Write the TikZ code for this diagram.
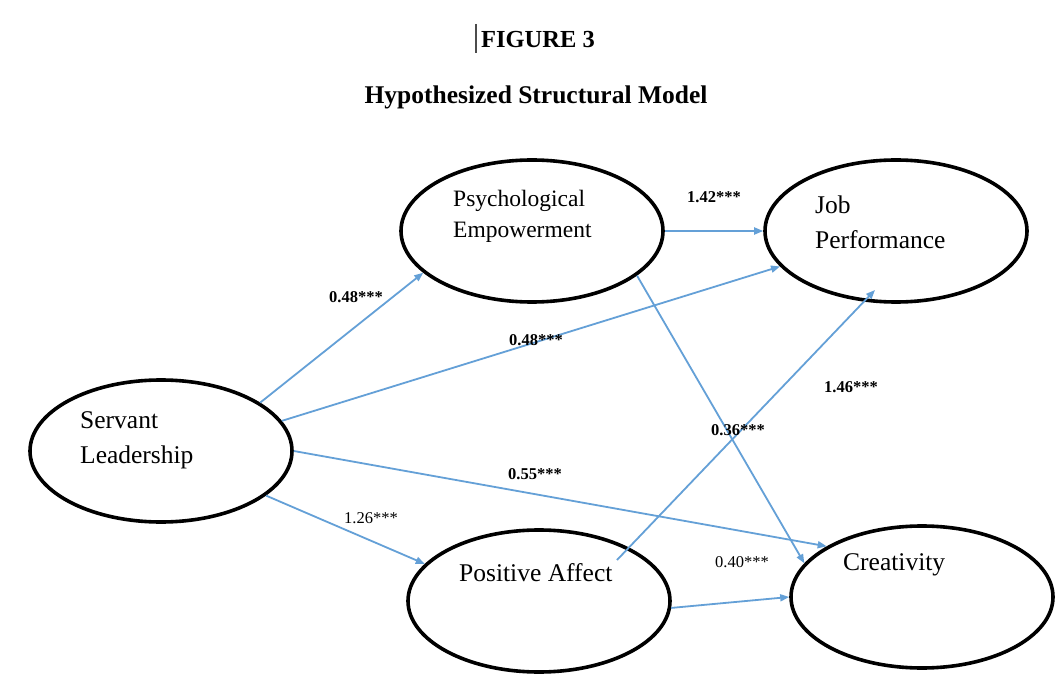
\documentclass[tikz,border=0pt]{standalone}
\usepackage{fontspec}
\setmainfont{Liberation Serif}
\usetikzlibrary{arrows.meta,shapes.geometric}
\definecolor{arr}{RGB}{100,160,215}
\begin{document}
\begin{tikzpicture}[x=1pt,y=-1pt,
  latent/.style={draw=black, line width=3.6pt, ellipse, minimum width=262pt, minimum height=142pt, inner sep=0pt},
  lbl/.style={inner sep=0pt, font=\fontsize{25.5}{35}\selectfont, align=left, anchor=west},
  coef/.style={inner sep=0pt, font=\fontsize{16.5}{18}\selectfont},
  coefb/.style={inner sep=0pt, font=\bfseries\fontsize{16.5}{18}\selectfont},
  ttl/.style={inner sep=0pt, font=\bfseries\fontsize{24.5}{28}\selectfont},
  link/.style={draw=arr, line width=1.8pt, -{Triangle[length=9pt,width=7pt]}}
]
\fill[white] (0,0) rectangle (1061,687);
\useasboundingbox (0,0) rectangle (1061,687);

% title
\node[ttl] (fig) at (538,40) {FIGURE 3};
\coordinate (cur1) at (476,24);
\coordinate (cur2) at (476,53);
\draw[line width=1.2pt, black!70] (cur1) -- (cur2);
\node[ttl, font=\bfseries\fontsize{25.5}{28}\selectfont] (sub) at (536,97) {Hypothesized Structural Model};

% latent variables
\node[latent] (sl) at (161,451) {};
\node[latent] (pe) at (532,231) {};
\node[latent] (jp) at (896,231) {};
\node[latent] (pa) at (539,601) {};
\node[latent] (cr) at (922,597) {};

% labels
\node[lbl] (slt) at (80,440.5) {Servant\\Leadership};
\node[lbl, font=\fontsize{23.5}{31}\selectfont] (pet) at (453,216.5) {Psychological\\Empowerment};
\node[lbl] (jpt) at (815,222.5) {Job\\Performance};
\node[lbl] (pat) at (459,573) {Positive Affect};
\node[lbl] (crt) at (843,565) {Creativity};

% free ends
\coordinate (paout) at (617,560);
\coordinate (jpin) at (875,290);

% paths
\draw[link] (sl.26.8) -- (pe.201);
\draw[link] (sl.14.3) -- (jp.197.5);
\draw[link] (sl.0) -- (cr.152);
\draw[link] (sl.-23.9) -- (pa.162.6);
\draw[link] (pe.-0.8) -- (jp.180.8);
\draw[link] (pe.-23.4) -- (cr.164);
\draw[link] (paout) -- (jpin);
\draw[link] (pa.-3) -- (cr.180);

% coefficients
\node[coefb] (c1) at (714,197) {1.42***};
\node[coefb] (c2) at (356,297) {0.48***};
\node[coefb] (c3) at (536,340) {0.48***};
\node[coefb] (c4) at (851,387) {1.46***};
\node[coefb] (c5) at (738,430) {0.36***};
\node[coefb] (c6) at (535,474) {0.55***};
\node[coef] (c7) at (371,518) {1.26***};
\node[coef] (c8) at (742,562) {0.40***};
\end{tikzpicture}
\end{document}
